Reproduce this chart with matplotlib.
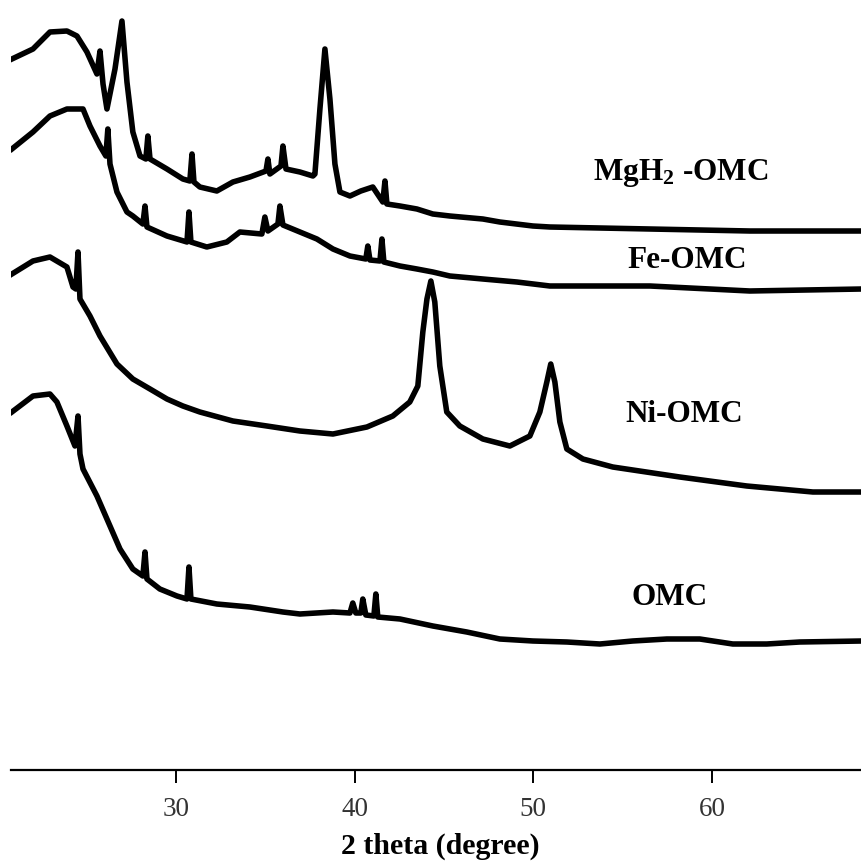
import numpy as np
import matplotlib.pyplot as plt

# XRD patterns of the carbon samples, read point by point (2 theta, counts a.u.)
mgh2_theta = np.array([20.82, 22.0, 22.95, 23.9, 24.46, 25.02, 25.58, 25.75, 25.92, 26.14,
                       26.59, 26.98, 27.26, 27.59, 27.99, 28.32, 28.43, 28.55, 29.5, 30.39,
                       30.78, 30.9, 31.01, 31.34, 32.29, 33.19, 34.14, 35.04, 35.15, 35.26,
                       35.88, 35.99, 36.16, 36.94, 37.67, 37.78, 38.06, 38.34, 38.62, 38.9,
                       39.18, 39.74, 40.35, 41.02, 41.58, 41.7, 41.81, 42.54, 43.49, 44.38,
                       45.33, 47.18, 48.13, 49.98, 50.93, 56.53, 62.12, 68.39])
mgh2_int = np.array([711, 721, 738, 739, 734, 718, 696, 719, 686, 661,
                     701, 749, 688, 638, 614, 611, 634, 611, 601, 591,
                     589, 616, 588, 583, 579, 588, 593, 599, 611, 596,
                     604, 624, 601, 598, 594, 596, 661, 721, 671, 606,
                     578, 574, 579, 583, 568, 589, 566, 564, 561, 556,
                     554, 551, 548, 544, 543, 541, 539, 539])

fe_theta = np.array([20.82, 22.0, 22.95, 23.9, 24.8, 25.19, 25.75, 26.08, 26.19, 26.31,
                     26.7, 27.26, 27.59, 28.15, 28.27, 28.38, 29.5, 30.62, 30.73, 30.84,
                     31.73, 32.85, 33.58, 34.81, 34.98, 35.15, 35.71, 35.82, 35.99, 36.94,
                     37.89, 38.79, 39.74, 40.63, 40.74, 40.86, 41.42, 41.53, 41.64, 42.54,
                     43.49, 44.38, 45.33, 47.18, 49.08, 50.93, 56.53, 62.12, 68.39])
fe_int = np.array([621, 638, 654, 661, 661, 644, 624, 614, 641, 606,
                   578, 558, 554, 546, 564, 543, 534, 528, 558, 528,
                   523, 528, 538, 536, 553, 539, 546, 564, 545, 538,
                   531, 521, 514, 511, 524, 510, 509, 531, 508, 504,
                   501, 498, 494, 491, 488, 484, 484, 479, 481])

ni_theta = np.array([20.82, 22.0, 22.95, 23.9, 24.24, 24.4, 24.52, 24.63, 25.19, 25.75,
                     26.7, 27.59, 28.55, 29.5, 30.39, 31.34, 33.19, 35.09, 36.94, 38.79,
                     40.69, 42.14, 43.09, 43.54, 43.82, 44.05, 44.27, 44.49, 44.77, 45.16,
                     45.89, 47.18, 48.69, 49.81, 50.37, 50.76, 50.98, 51.21, 51.49, 51.88,
                     52.78, 54.45, 58.2, 61.95, 65.65, 68.39])
ni_int = np.array([496, 509, 513, 503, 483, 481, 518, 471, 454, 434,
                   406, 391, 381, 371, 364, 358, 349, 344, 339, 336,
                   343, 354, 368, 384, 438, 471, 489, 468, 404, 358,
                   344, 331, 324, 334, 358, 388, 406, 388, 348, 321,
                   311, 303, 293, 284, 278, 278])

omc_theta = np.array([20.82, 22.0, 22.95, 23.34, 23.9, 24.35, 24.52, 24.63, 24.8, 25.58,
                      26.31, 26.87, 27.59, 28.15, 28.27, 28.38, 29.1, 30.06, 30.62, 30.73,
                      30.84, 32.29, 34.14, 35.99, 36.94, 38.79, 39.74, 39.9, 40.07, 40.35,
                      40.46, 40.63, 41.08, 41.19, 41.3, 42.54, 44.38, 46.28, 48.13, 49.98,
                      51.88, 53.73, 55.57, 57.48, 59.32, 61.17, 63.07, 64.92, 68.39])
omc_int = np.array([358, 374, 376, 368, 344, 324, 354, 316, 301, 274,
                    244, 221, 201, 194, 218, 191, 181, 174, 171, 203,
                    171, 166, 163, 158, 156, 158, 157, 167, 157, 157,
                    171, 155, 154, 176, 153, 151, 144, 138, 131, 129,
                    128, 126, 129, 131, 131, 126, 126, 128, 129])

sample_names = ['MgH$_2$ -OMC', 'Fe-OMC', 'Ni-OMC', 'OMC']
label_x = [53.33, 55.29, 55.13, 55.52]
label_y = [591, 503, 349, 166]

plt.rcParams['font.family'] = ['Liberation Serif', 'DejaVu Serif']
plt.rcParams['mathtext.fontset'] = 'custom'
plt.rcParams['mathtext.rm'] = 'Liberation Serif:bold'
plt.rcParams['mathtext.bf'] = 'Liberation Serif:bold'
plt.rcParams['mathtext.default'] = 'rm'

fig = plt.figure(figsize=(8.62, 8.62), dpi=100)
ax = fig.add_axes([11 / 862, 91 / 862, 851 / 862, 771 / 862])

for tt, yy in [(mgh2_theta, mgh2_int), (fe_theta, fe_int),
               (ni_theta, ni_int), (omc_theta, omc_int)]:
    ax.plot(tt, yy, color='black', lw=4.0, solid_joinstyle='round')

for name, lx, ly in zip(sample_names, label_x, label_y):
    ax.text(lx, ly, name, fontsize=22.5, fontweight='bold', va='baseline', ha='left')

ax.set_xlim(20.77, 68.4)
ax.set_ylim(0, 771)

for s in ['left', 'right', 'top']:
    ax.spines[s].set_visible(False)
ax.spines['bottom'].set_linewidth(1.6)
ax.set_yticks([])
ax.set_xticks([30, 40, 50, 60])
ax.tick_params(axis='x', direction='out', length=9.4, width=1.4, pad=9,
               labelsize=19.5, labelcolor='#333333')

ax.set_xlabel('2 theta (degree)', fontsize=21.5, fontweight='bold')
ax.xaxis.label.set_verticalalignment('bottom')
ax.xaxis.set_label_coords(0.504, -0.1155)

fig.savefig('out.png', dpi=100)
